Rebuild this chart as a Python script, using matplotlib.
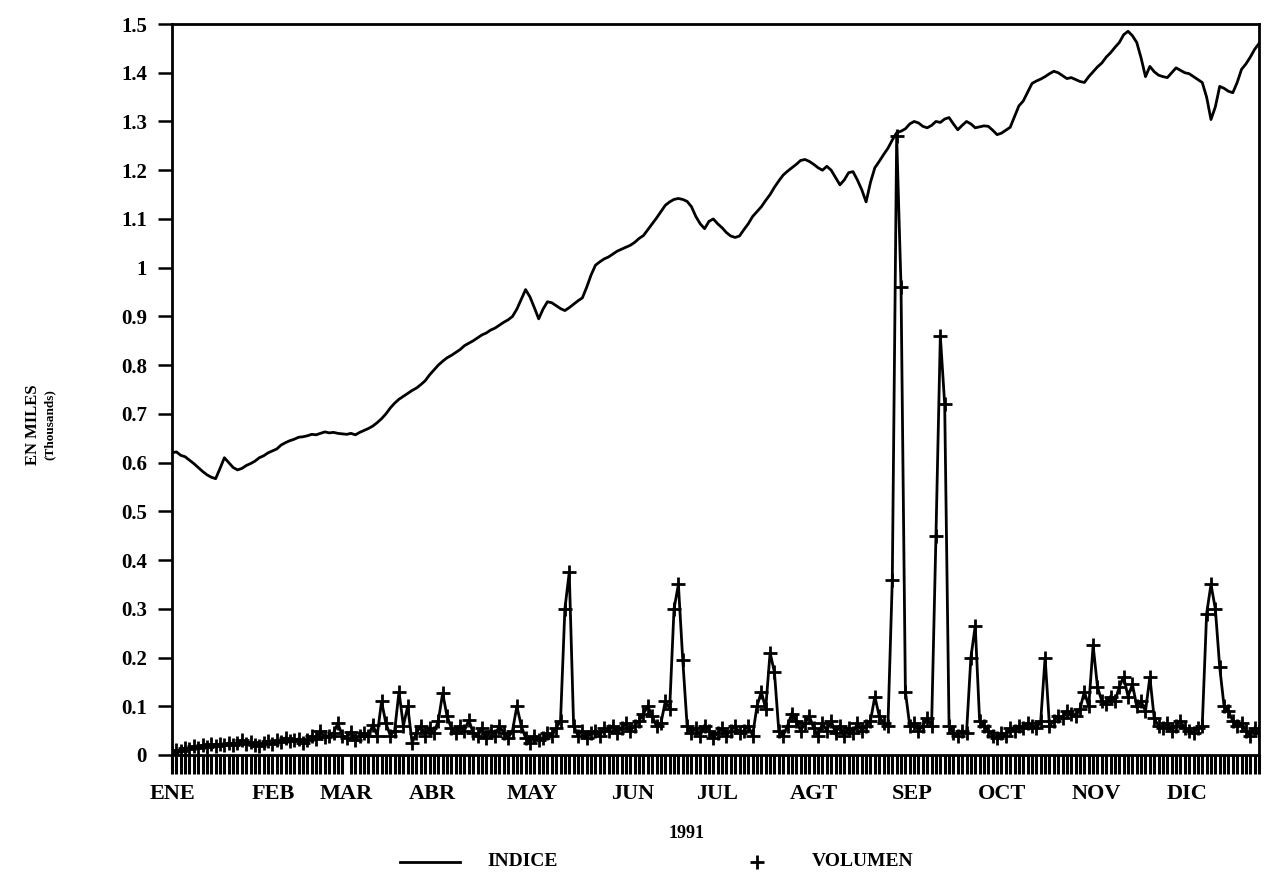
import matplotlib
matplotlib.use('Agg')
import matplotlib.pyplot as plt
import numpy as np
from matplotlib.lines import Line2D

# ---------------- data (one value per trading day) ----------------
indice = [
    0.620, 0.622, 0.615, 0.612, 0.605, 0.598, 0.590, 0.582, 0.575, 0.570,
    0.567, 0.588, 0.610, 0.600, 0.590, 0.585, 0.588, 0.594, 0.598, 0.603,
    0.610, 0.614, 0.620, 0.624, 0.628, 0.636, 0.641, 0.645, 0.648, 0.652,
    0.653, 0.655, 0.658, 0.657, 0.660, 0.663, 0.661, 0.662, 0.660, 0.659,
    0.658, 0.660, 0.657, 0.662, 0.666, 0.670, 0.675, 0.682, 0.690, 0.700,
    0.712, 0.722, 0.730, 0.736, 0.742, 0.748, 0.753, 0.760, 0.768, 0.780,
    0.790, 0.800, 0.808, 0.815, 0.820, 0.826, 0.832, 0.840, 0.845, 0.850,
    0.856, 0.862, 0.866, 0.872, 0.876, 0.882, 0.888, 0.893, 0.900, 0.915,
    0.935, 0.955, 0.940, 0.918, 0.895, 0.915, 0.930, 0.928, 0.922, 0.916,
    0.912, 0.918, 0.925, 0.932, 0.938, 0.960, 0.985, 1.005, 1.012, 1.018,
    1.022, 1.028, 1.034, 1.038, 1.042, 1.046, 1.052, 1.060, 1.066, 1.078,
    1.090, 1.102, 1.115, 1.128, 1.135, 1.140, 1.142, 1.140, 1.136, 1.125,
    1.105, 1.090, 1.080, 1.095, 1.100, 1.090, 1.082, 1.072, 1.065, 1.062,
    1.065, 1.078, 1.090, 1.105, 1.115, 1.125, 1.138, 1.150, 1.165, 1.178,
    1.190, 1.198, 1.205, 1.212, 1.220, 1.222, 1.218, 1.212, 1.205, 1.200,
    1.208, 1.200, 1.185, 1.170, 1.180, 1.195, 1.197, 1.180, 1.160, 1.135,
    1.175, 1.205, 1.218, 1.232, 1.245, 1.262, 1.277, 1.280, 1.285, 1.295,
    1.300, 1.297, 1.290, 1.287, 1.292, 1.300, 1.298, 1.305, 1.308, 1.295,
    1.283, 1.292, 1.300, 1.295, 1.287, 1.289, 1.291, 1.290, 1.282, 1.273,
    1.276, 1.282, 1.288, 1.310, 1.332, 1.342, 1.360, 1.378, 1.383, 1.387,
    1.392, 1.398, 1.403, 1.400, 1.394, 1.388, 1.390, 1.386, 1.382, 1.380,
    1.392, 1.402, 1.412, 1.420, 1.432, 1.441, 1.452, 1.462, 1.478, 1.485,
    1.476, 1.462, 1.430, 1.392, 1.413, 1.402, 1.395, 1.392, 1.390, 1.400,
    1.410, 1.405, 1.400, 1.398, 1.392, 1.386, 1.380, 1.350, 1.304, 1.330,
    1.372, 1.368, 1.362, 1.359, 1.380, 1.407, 1.418, 1.432, 1.448, 1.460,
]

volumen = [
    0.005, 0.010, 0.008, 0.015, 0.012, 0.018, 0.014, 0.020, 0.016, 0.022,
    0.018, 0.022, 0.020, 0.025, 0.021, 0.024, 0.030, 0.022, 0.026, 0.020,
    0.018, 0.024, 0.028, 0.022, 0.030, 0.026, 0.035, 0.028, 0.030, 0.033,
    0.025, 0.030, 0.038, 0.032, 0.050, 0.036, 0.040, 0.045, 0.065, 0.040,
    0.035, 0.048, 0.030, 0.040, 0.045, 0.038, 0.062, 0.040, 0.110, 0.065,
    0.040, 0.050, 0.130, 0.060, 0.100, 0.025, 0.045, 0.060, 0.040, 0.055,
    0.045, 0.070, 0.127, 0.080, 0.055, 0.045, 0.060, 0.050, 0.072, 0.045,
    0.040, 0.055, 0.035, 0.050, 0.040, 0.060, 0.045, 0.035, 0.050, 0.100,
    0.060, 0.035, 0.025, 0.040, 0.030, 0.035, 0.045, 0.040, 0.055, 0.070,
    0.300, 0.375, 0.060, 0.040, 0.050, 0.035, 0.045, 0.050, 0.040, 0.055,
    0.050, 0.060, 0.045, 0.055, 0.065, 0.050, 0.060, 0.070, 0.085, 0.100,
    0.080, 0.060, 0.065, 0.110, 0.095, 0.300, 0.350, 0.195, 0.060, 0.045,
    0.055, 0.040, 0.060, 0.050, 0.035, 0.045, 0.055, 0.040, 0.050, 0.060,
    0.045, 0.050, 0.060, 0.040, 0.100, 0.130, 0.095, 0.210, 0.170, 0.050,
    0.040, 0.060, 0.085, 0.070, 0.050, 0.065, 0.080, 0.055, 0.040, 0.065,
    0.050, 0.070, 0.045, 0.060, 0.040, 0.055, 0.045, 0.065, 0.050, 0.060,
    0.070, 0.120, 0.080, 0.065, 0.060, 0.360, 1.270, 0.960, 0.130, 0.060,
    0.065, 0.050, 0.060, 0.075, 0.060, 0.450, 0.860, 0.720, 0.060, 0.045,
    0.040, 0.050, 0.045, 0.200, 0.265, 0.070, 0.060, 0.050, 0.040, 0.035,
    0.045, 0.040, 0.055, 0.050, 0.060, 0.055, 0.065, 0.060, 0.055, 0.070,
    0.200, 0.060, 0.070, 0.080, 0.075, 0.090, 0.085, 0.080, 0.095, 0.130,
    0.100, 0.225, 0.140, 0.110, 0.105, 0.120, 0.110, 0.140, 0.160, 0.120,
    0.145, 0.100, 0.110, 0.090, 0.160, 0.075, 0.060, 0.055, 0.065, 0.050,
    0.060, 0.070, 0.055, 0.050, 0.045, 0.055, 0.060, 0.290, 0.350, 0.300,
    0.180, 0.100, 0.090, 0.070, 0.060, 0.065, 0.050, 0.040, 0.055, 0.045,
]

month_labels = ['ENE', 'FEB', 'MAR', 'ABR', 'MAY', 'JUN',
                'JUL', 'AGT', 'SEP', 'OCT', 'NOV', 'DIC']
month_days = [0.2, 23.1, 40.0, 59.7, 82.6, 105.5,
              124.9, 147.1, 169.6, 190.2, 211.7, 232.5]

ytick_values = [0, 0.1, 0.2, 0.3, 0.4, 0.5, 0.6, 0.7, 0.8, 0.9,
                1.0, 1.1, 1.2, 1.3, 1.4, 1.5]
ytick_labels = ['0', '0.1', '0.2', '0.3', '0.4', '0.5', '0.6', '0.7', '0.8', '0.9',
                '1', '1.1', '1.2', '1.3', '1.4', '1.5']

year_label = '1991'
ylabel_main = 'EN MILES'
ylabel_sub = '(Thousands)'
series_names = ['INDICE', 'VOLUMEN']

# ---------------- figure ----------------
W, H = 1265, 873
fig = plt.figure(figsize=(W / 100, H / 100), dpi=100)
fig.patch.set_facecolor('white')

left, right, top, bottom = 172, 1259, 24, 755
ax = fig.add_axes([left / W, 1 - bottom / H, (right - left) / W, (bottom - top) / H])

FONT = 'Liberation Serif'
x = np.arange(len(indice))

ax.plot(x, indice, color='black', lw=2.0, solid_joinstyle='round')
ax.plot(np.arange(len(volumen)), volumen, color='black', lw=2.0,
        marker='+', ms=10.5, mew=2.0, solid_joinstyle='miter')

ax.set_xlim(0, len(indice) - 1)
ax.set_ylim(0, 1.5)

ax.set_yticks(ytick_values, ytick_labels)
ax.set_xticks(month_days, month_labels)
ax.set_xticks(x, minor=True)

ax.tick_params(axis='x', which='major', length=0, pad=21)
ax.tick_params(axis='x', which='minor', length=14, width=2.2, direction='out', color='black')
ax.tick_params(axis='y', which='major', length=10, width=1.8, direction='out', pad=8)

for t in ax.get_yticklabels():
    t.set_fontfamily(FONT)
    t.set_fontweight('bold')
    t.set_fontsize(15)
for t in ax.get_xticklabels():
    t.set_fontfamily(FONT)
    t.set_fontweight('bold')
    t.set_fontsize(16)

for s in ax.spines.values():
    s.set_linewidth(2.0)
    s.set_color('black')

# axis title and y label
fig.text(687 / W, 1 - 834 / H, year_label, ha='center', va='center',
         fontfamily=FONT, fontweight='bold', fontsize=13)
fig.text(33 / W, 1 - 425 / H, ylabel_main, rotation=90, ha='center', va='center',
         fontfamily=FONT, fontweight='bold', fontsize=12)
fig.text(50 / W, 1 - 425 / H, ylabel_sub, rotation=90, ha='center', va='center',
         fontfamily=FONT, fontweight='bold', fontsize=9.5)

# legend (drawn below the axis like the original)
ly = 1 - 862 / H
fig.add_artist(Line2D([400 / W, 460 / W], [ly, ly], color='black', lw=2.0))
fig.text(487 / W, ly, series_names[0], ha='left', va='center',
         fontfamily=FONT, fontweight='bold', fontsize=14)
fig.add_artist(Line2D([757 / W], [ly], color='black', marker='+', ms=10.5, mew=2.0, lw=0))
fig.text(812 / W, ly, series_names[1], ha='left', va='center',
         fontfamily=FONT, fontweight='bold', fontsize=14)

fig.savefig('out.png', dpi=100)
